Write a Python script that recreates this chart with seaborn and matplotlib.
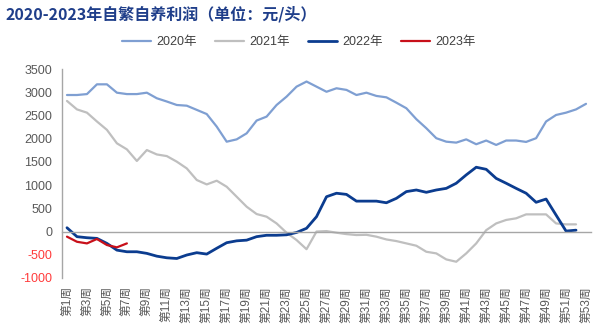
import numpy as np
import pandas as pd
import matplotlib
matplotlib.use("Agg")
import matplotlib.pyplot as plt
import seaborn as sns

weeks = [f"第{i}周" for i in range(1, 54)]

y2020 = [2940, 2940, 2960, 3170, 3170, 2990, 2960, 2960, 2990, 2870,
         2800, 2725, 2710, 2620, 2530, 2260, 1935, 1985, 2115, 2390,
         2475, 2725, 2905, 3120, 3230, 3120, 3010, 3085, 3050, 2940,
         2990, 2920, 2890, 2775, 2655, 2420, 2225, 2010, 1935, 1915,
         1985, 1880, 1960, 1865, 1960, 1960, 1930, 2010, 2370, 2510,
         2560, 2630, 2750]
y2021 = [2812, 2630, 2560, 2370, 2190, 1900, 1770, 1520, 1755, 1660,
         1625, 1505, 1360, 1110, 1015, 1095, 965, 750, 535, 377,
         320, 175, -25, -183, -380, 0, 10, -25, -55, -75,
         -70, -110, -170, -205, -255, -305, -435, -470, -600, -650,
         -470, -255, 30, 175, 250, 285, 370, 370, 370, 175,
         155, 155]
y2022 = [82, -110, -133, -147, -255, -400, -435, -435, -470, -530,
         -565, -580, -505, -455, -485, -360, -240, -200, -185, -110,
         -80, -80, -70, -20, 70, 320, 750, 825, 800, 655,
         655, 655, 620, 715, 860, 895, 845, 895, 930, 1040,
         1220, 1385, 1340, 1145, 1040, 930, 825, 630, 700, 355,
         10, 30]
y2023 = [-110, -220, -255, -160, -290, -340, -255]

series_names = ["2020年", "2021年", "2022年", "2023年"]
series_vals = [y2020, y2021, y2022, y2023]
colors = ["#7F9FD2", "#BFBFBF", "#0B3C8F", "#C8101A"]
widths = [1.6, 1.6, 2.0, 1.6]

frames = []
for name, vals in zip(series_names, series_vals):
    frames.append(pd.DataFrame({"idx": np.arange(len(vals)), "val": vals, "year": name}))
df = pd.concat(frames, ignore_index=True)

sns.set_theme(style="white")
plt.rcParams["font.family"] = ["Liberation Sans", "Noto Sans CJK SC", "DejaVu Sans"]

fig = plt.figure(figsize=(6.0, 3.36), dpi=100)
ax = fig.add_axes([62 / 600, 1 - 278 / 336, (591 - 62) / 600, (278 - 69) / 336])

for name, col, lw in zip(series_names, colors, widths):
    sns.lineplot(data=df[df["year"] == name], x="idx", y="val", color=col,
                 linewidth=lw, ax=ax, label=name)

ax.set_xlim(-0.5, len(weeks) - 0.5)
ax.set_ylim(-1000, 3500)
ax.set_xlabel("")
ax.set_ylabel("")

axis_gray = "#A6A6A6"
for s in ["top", "right"]:
    ax.spines[s].set_visible(False)
ax.spines["left"].set_color(axis_gray)
ax.spines["left"].set_linewidth(1.0)
ax.spines["bottom"].set_position(("data", 0))
ax.spines["bottom"].set_color(axis_gray)
ax.spines["bottom"].set_linewidth(1.0)

ax.set_xticks(np.arange(-0.5, len(weeks), 1))
ax.tick_params(axis="x", which="both", labelbottom=False, length=4,
               direction="out", color=axis_gray, width=0.8)

yt = np.arange(-1000, 3501, 500)
ax.set_yticks(yt)
ax.set_yticklabels([str(v) for v in yt])
ax.tick_params(axis="y", length=4, direction="out", color=axis_gray,
               width=0.8, labelsize=9, pad=3)
for lab, v in zip(ax.get_yticklabels(), yt):
    lab.set_color("#FF3B3B" if v < 0 else "#595959")

sec = ax.secondary_xaxis("bottom")
sec.set_xticks(np.arange(0, len(weeks), 2))
sec.set_xticklabels(weeks[::2], rotation=90, fontsize=8.5, color="#595959")
sec.tick_params(length=0, pad=6)
sec.spines["bottom"].set_visible(False)

leg = ax.legend(loc="center", bbox_to_anchor=(299 / 600, 1 - 42 / 336),
                bbox_transform=fig.transFigure, ncol=4, frameon=False,
                fontsize=9, handlelength=2.3, columnspacing=1.5,
                handletextpad=0.4)
for t in leg.get_texts():
    t.set_color("#404040")

fig.text(5 / 600, 1 - 14 / 336, "2020-2023年自繁自养利润（单位：元/头）",
         fontsize=11.5, fontweight="bold", color="#1F3E8A",
         ha="left", va="center",
         family=["Noto Sans CJK SC", "DejaVu Sans"])

fig.savefig("out.png", dpi=100)
